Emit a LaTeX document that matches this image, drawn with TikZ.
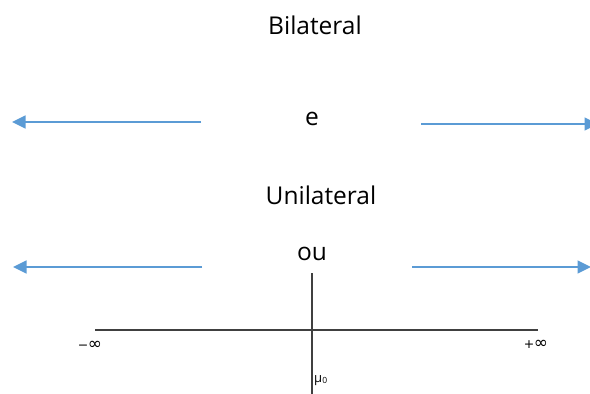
\documentclass[tikz,border=0pt]{standalone}
\usepackage{fontspec}
\setmainfont{Open Sans}
\newfontfamily\symfont{DejaVu Sans}
\usetikzlibrary{arrows.meta}
\definecolor{arrowblue}{HTML}{5B9BD5}
\definecolor{axisgray}{HTML}{404040}
\newcommand{\bigINF}{{\fontsize{17}{17}\selectfont ∞}}
\tikzset{
  bigtext/.style={font=\fontsize{24.5}{28}\selectfont, anchor=base, inner sep=0pt},
  smalltext/.style={font=\symfont\fontsize{12.5}{14}\selectfont, inner sep=0pt},
  blueline/.style={draw=arrowblue, line width=2.6pt,
    -{Triangle[length=13.5pt, width=12.5pt]}},
  axisline/.style={draw=axisgray, line width=1.1pt}
}
\begin{document}
\begin{tikzpicture}[x=1pt, y=-1pt]
  \useasboundingbox (0,0) rectangle (590,394);

  % labels
  \node[bigtext] (bil) at (315,34) {Bilateral};
  \node[bigtext] (e)   at (312,125) {e};
  \node[bigtext] (uni) at (321,204) {Unilateral};
  \node[bigtext] (ou)  at (312,260) {ou};

  % arrow end points
  \coordinate (a1s) at (201,122);
  \coordinate (a1e) at (12,122);
  \coordinate (a2s) at (421,124);
  \coordinate (a2e) at (598,124);
  \coordinate (a3s) at (202,267);
  \coordinate (a3e) at (13,267);
  \coordinate (a4s) at (412,267);
  \coordinate (a4e) at (591,267);

  \draw[blueline] (a1s) -- (a1e);
  \draw[blueline] (a2s) -- (a2e);
  \draw[blueline] (a3s) -- (a3e);
  \draw[blueline] (a4s) -- (a4e);

  % axes
  \coordinate (xl) at (95,330);
  \coordinate (xr) at (538,330);
  \coordinate (yt) at (312,273);
  \coordinate (yb) at (312,394);
  \draw[axisline] (xl) -- (xr);
  \draw[axisline] (yt) -- (yb);

  \node[smalltext] (minf) at (90,345) {−\kern-0.5pt\bigINF};
  \node[smalltext] (pinf) at (536,344) {+\kern-0.5pt\bigINF};
  \node[smalltext, anchor=west, font=\fontsize{13}{15}\selectfont] (mu) at (314,381)
    {μ\raisebox{-0.15ex}{\fontsize{8.5}{9}\selectfont 0}};
\end{tikzpicture}
\end{document}
